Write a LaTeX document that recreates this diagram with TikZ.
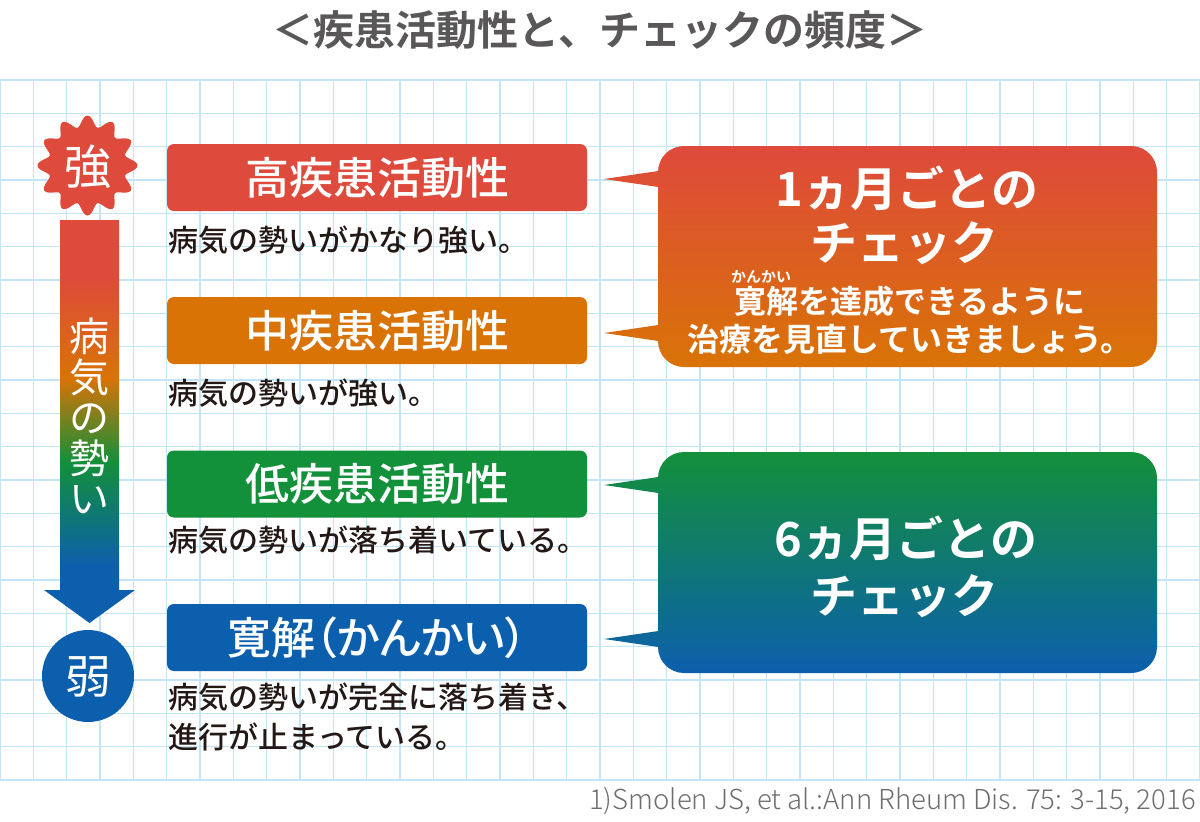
\documentclass[tikz,border=0pt]{standalone}
\usepackage{fontspec}
\setmainfont{Noto Sans CJK JP}
\IfFontExistsTF{Noto Sans CJK JP Medium}{\newfontfamily\jpmed{Noto Sans CJK JP Medium}\newfontfamily\jppalt{Noto Sans CJK JP Medium}[RawFeature=+palt]}{\newfontfamily\jpmed{Noto Sans CJK JP}\newfontfamily\jppalt{Noto Sans CJK JP}[RawFeature=+palt]}
\IfFontExistsTF{Noto Sans CJK JP Bold}{\newfontfamily\jpbold{Noto Sans CJK JP Bold}}{\newfontfamily\jpbold{Noto Sans CJK JP}[FakeBold=1.5]}
\IfFontExistsTF{Noto Sans CJK JP Light}{\newfontfamily\jplight{Noto Sans CJK JP Light}}{\newfontfamily\jplight{Noto Sans CJK JP}}
\newfontfamily\jpreg{Noto Sans CJK JP}
\definecolor{cred}{HTML}{DE4A3B}
\definecolor{corange}{HTML}{D97306}
\definecolor{cgreen}{HTML}{13903A}
\definecolor{cblue}{HTML}{0C5FAD}
\definecolor{cgrid}{HTML}{C2E5F7}
\definecolor{ctext}{HTML}{231815}
\definecolor{ctitle}{HTML}{595757}
\definecolor{cref}{HTML}{6E6E6E}
\pgfdeclareverticalshading{arrowshade}{100bp}{color(0bp)=(cblue); color(32bp)=(cblue); color(45bp)=(cgreen); color(55.4bp)=(corange); color(68bp)=(cred); color(100bp)=(cred)}
\tikzset{
  gridline/.style={cgrid, line width=1.3pt},
  barbox/.style={rounded corners=7pt, minimum width=420pt, minimum height=67pt, inner sep=0pt, text=white, font=\jpmed\fontsize{44}{48}\selectfont},
  desc/.style={anchor=west, inner sep=0pt, text=ctext, font=\jpmed\fontsize{30}{40}\selectfont, align=left},
  bigtxt/.style={inner sep=0pt, text=white, font=\jpbold\fontsize{47}{50}\selectfont},
  midtxt/.style={inner sep=0pt, text=white, font=\jpbold\fontsize{32}{36}\selectfont},
}
\begin{document}
\begin{tikzpicture}[x=1pt, y=-1pt]
\fill[white] (0,0) rectangle (1200,822);
\useasboundingbox (0,0) rectangle (1200,822);
% grid
\foreach \i in {0,...,36} \draw[gridline] ({\i*100/3},80) -- ({\i*100/3},780);
\foreach \j in {0,...,21} \draw[gridline] (0,{80+\j*100/3}) -- (1200,{80+\j*100/3});
% title
\node[inner sep=0pt, text=ctitle, font=\jpbold\fontsize{41}{46}\selectfont] (title) at (600,30) {＜疾患活動性と、チェックの頻度＞};
% star
\fill[cred] plot[domain=0:360, samples=145, smooth] ({87.5+(44.5+5.5*cos(12*\x))*cos(\x)}, {165.5+(44.5+5.5*cos(12*\x))*sin(\x)}) -- cycle;
\node[inner sep=0pt, text=white, font=\jpreg\fontsize{47}{50}\selectfont] (strong) at (87.5,167) {強};
% arrow
\path[shading=arrowshade] (60,220) -- (119,220) -- (119,590) -- (135,590) -- (89.5,623) -- (44,590) -- (60,590) -- cycle;
\node[inner sep=0pt, text=white, align=center, font=\jpreg\fontsize{40}{40.5}\selectfont] (force) at (89.5,416) {病\\気\\の\\勢\\い};
% weak circle
\fill[cblue] (88,676) circle[radius=46];
\node[inner sep=0pt, text=white, font=\jpreg\fontsize{46}{50}\selectfont] (weak) at (88,677) {弱};
% bars
\node[barbox, fill=cred] (b1) at (377,177.5) {高疾患活動性};
\node[barbox, fill=corange] (b2) at (377,330.5) {中疾患活動性};
\node[barbox, fill=cgreen] (b3) at (377,484) {低疾患活動性};
\node[barbox, fill=cblue, font=\jppalt\fontsize{44}{48}\selectfont] (b4) at (377,637.5) {寛解（かんかい）};
% descriptions
\node[desc] (d1) at (168,240) {病気の勢いがかなり強い。};
\node[desc] (d2) at (168,393) {病気の勢いが強い。};
\node[desc] (d3) at (168,540) {病気の勢いが落ち着いている。};
\node[desc] (d4) at (168,717) {病気の勢いが完全に落ち着き、\\進行が止まっている。};
% callout 1
\path[top color=cred, bottom color=corange]
  (672,169) -- (604,179) -- (672,189) -- cycle
  (672,323) -- (604,333) -- (672,343) -- cycle
  [rounded corners=26pt] (658,146) rectangle (1157,367);
\node[bigtxt] (c1a) at (907,188) {1ヵ月ごとの};
\node[bigtxt] (c1b) at (904,243) {チェック};
\node[inner sep=0pt, text=white, font=\jpbold\fontsize{15}{16}\selectfont] (c1r) at (761,277) {かんかい};
\node[midtxt] (c1c) at (910,301) {寛解を達成できるように};
\node[midtxt] (c1d) at (910,339) {治療を見直していきましょう。};
% callout 2
\path[top color=cgreen, bottom color=cblue]
  (672,475) -- (604,485) -- (672,495) -- cycle
  (672,629) -- (604,639) -- (672,649) -- cycle
  [rounded corners=26pt] (658,452) rectangle (1157,673);
\node[bigtxt] (c2a) at (906,538) {6ヵ月ごとの};
\node[bigtxt] (c2b) at (904,596) {チェック};
% reference
\node[anchor=east, inner sep=0pt, text=cref, font=\jplight\fontsize{27.5}{30}\selectfont] (ref) at (1196,801) {1)Smolen JS, et al.:Ann Rheum Dis. 75: 3-15, 2016};
\end{tikzpicture}
\end{document}
